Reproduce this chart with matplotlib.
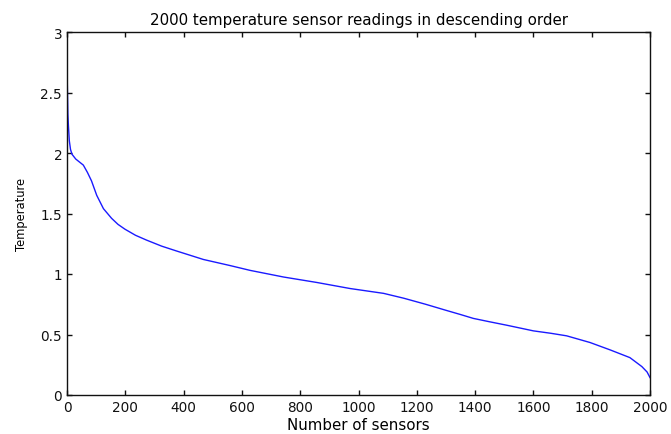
import matplotlib
matplotlib.use("Agg")
import matplotlib.pyplot as plt

# Sensor index (rank) and temperature
sensor_rank = [1, 2, 3, 5, 8, 12, 17, 30, 56, 70, 84, 102, 125, 153, 175, 199,
               235, 273, 325, 376, 468, 559, 628, 743, 857, 971, 1086, 1155,
               1230, 1300, 1350, 1394, 1450, 1508, 1600, 1660, 1714, 1794,
               1863, 1931, 1972, 1990, 2000]
temperature = [2.58, 2.45, 2.32, 2.22, 2.10, 2.03, 1.99, 1.95, 1.90, 1.84,
               1.77, 1.65, 1.54, 1.46, 1.41, 1.37, 1.32, 1.28, 1.23, 1.19,
               1.12, 1.07, 1.03, 0.975, 0.93, 0.88, 0.84, 0.80, 0.75, 0.70,
               0.665, 0.633, 0.605, 0.577, 0.53, 0.51, 0.489, 0.434, 0.373,
               0.309, 0.235, 0.19, 0.144]

title_text = "2000 temperature sensor readings in descending order"
x_label = "Number of sensors"
y_label = "Temperature"
x_ticks = [0, 200, 400, 600, 800, 1000, 1200, 1400, 1600, 1800, 2000]
y_ticks = [0, 0.5, 1, 1.5, 2, 2.5, 3]
y_tick_labels = ["0", "0.5", "1", "1.5", "2", "2.5", "3"]

plt.rcParams['font.family'] = ['DejaVu Sans']

fig = plt.figure(figsize=(6.71, 4.35), dpi=100)
ax = fig.add_axes([67/671, 1 - 396/435, 583/671, 363/435])
ax.plot(sensor_rank, temperature, color='#1a1aff', linewidth=1.0)
ax.set_xlim(0, 2000)
ax.set_ylim(0, 3)
ax.set_xticks(x_ticks)
ax.set_yticks(y_ticks)
ax.set_yticklabels(y_tick_labels)
ax.tick_params(direction='in', top=True, right=True, length=3.3, width=1,
               labelsize=9.8, pad=3.5, colors='#111111')
for s in ax.spines.values():
    s.set_linewidth(1.0)
    s.set_color('#111111')
ax.set_title(title_text, fontsize=10.8, pad=5.5)
ax.set_xlabel(x_label, fontsize=10.8, labelpad=2)
ax.set_ylabel(y_label, fontsize=8.3, labelpad=9)

fig.savefig("out.png", dpi=100)
